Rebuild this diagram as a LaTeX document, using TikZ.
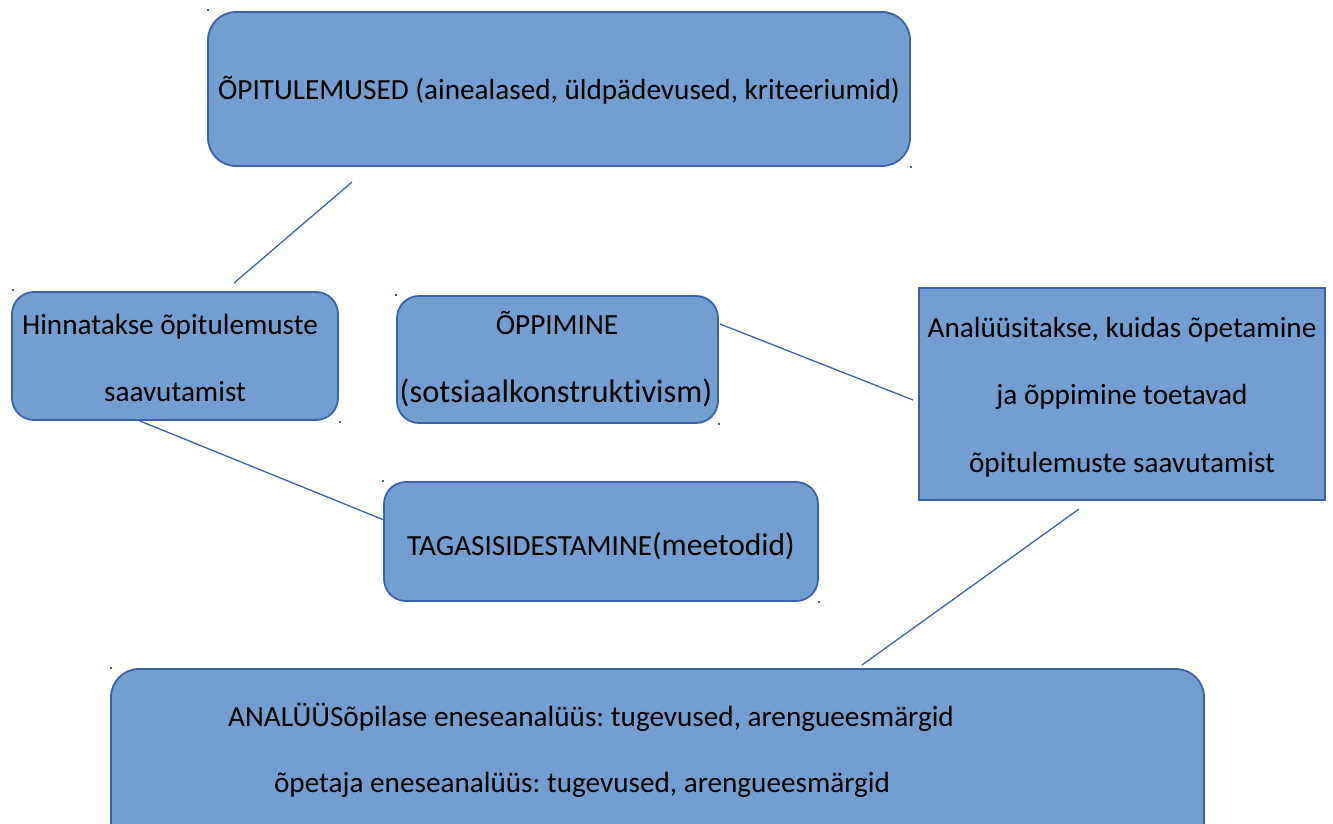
\documentclass[tikz,border=0pt]{standalone}
\usepackage{fontspec}
\setmainfont[Ligatures=NoCommon]{Carlito}
\frenchspacing
\definecolor{boxfill}{RGB}{114,159,207}
\definecolor{boxdraw}{RGB}{58,98,168}
\definecolor{linecol}{RGB}{60,100,170}
\begin{document}
\begin{tikzpicture}[x=1pt,y=-1pt,
  rbox/.style={fill=boxfill,draw=boxdraw,line width=1.8pt,rounded corners=28pt},
  sbox/.style={fill=boxfill,draw=boxdraw,line width=1.2pt},
  txt/.style={font=\fontsize{29.2}{34}\selectfont,inner sep=0pt,anchor=base},
  conn/.style={draw=linecol,line width=1.3pt},
  handle/.style={fill=boxdraw,inner sep=0pt,minimum size=2.2pt,shape=rectangle}]
\useasboundingbox (0,0) rectangle (1333,823);
\clip (0,0) rectangle (1333,823);
% boxes
\draw[rbox] (208,12) rectangle (910,166);
\draw[rbox,rounded corners=22pt] (12,292) rectangle (338,420);
\draw[rbox,rounded corners=22pt] (397,296) rectangle (718,423);
\draw[sbox] (919,288) rectangle (1325,500);
\draw[rbox,rounded corners=22pt] (384,482) rectangle (818,601);
\draw[rbox] (111,669) rectangle (1204,860);
% handles
\node[handle] (h1) at (208,10) {};
\node[handle] (h2) at (911,167) {};
\node[handle] (h3) at (13,290) {};
\node[handle] (h4) at (340,422) {};
\node[handle] (h5) at (396,295) {};
\node[handle] (h6) at (719,424) {};
\node[handle] (h7) at (383,481) {};
\node[handle] (h8) at (819,602) {};
\node[handle] (h9) at (111,668) {};
% texts
\node[txt] (t1) at (559,99) {ÕPITULEMUSED (ainealased, üldpädevused, kriteeriumid)};
\node[txt] (t2a) at (170,334) {Hinnatakse õpitulemuste};
\node[txt] (t2b) at (175,401) {saavutamist};
\node[txt] (t3a) at (557,334) {ÕPPIMINE};
\node[txt,font=\fontsize{32.5}{38}\selectfont] (t3b) at (556,402) {(sotsiaalkonstruktivism)};
\node[txt] (t4a) at (1122,337) {Analüüsitakse, kuidas õpetamine};
\node[txt] (t4b) at (1122,404) {ja õppimine toetavad};
\node[txt] (t4c) at (1122,472) {õpitulemuste saavutamist};
\node[txt] (t5) at (601,555) {TAGASISIDESTAMINE{\fontsize{31.5}{36}\selectfont(meetodid)}};
\node[txt,anchor=base west] (t6a) at (228,726) {ANALÜÜSõpilase eneseanalüüs: tugevused, arengueesmärgid};
\node[txt] (t6b) at (582,792) {õpetaja eneseanalüüs: tugevused, arengueesmärgid};
% connectors
\coordinate (c1a) at (352,182);
\coordinate (c1b) at (234,283);
\coordinate (c2a) at (140,421);
\coordinate (c2b) at (384,520);
\coordinate (c3a) at (720,324);
\coordinate (c3b) at (913,400);
\coordinate (c4a) at (1079,509);
\coordinate (c4b) at (862,665);
\draw[conn] (c1a) -- (c1b);
\draw[conn] (c2a) -- (c2b);
\draw[conn] (c3a) -- (c3b);
\draw[conn] (c4a) -- (c4b);
\end{tikzpicture}
\end{document}
